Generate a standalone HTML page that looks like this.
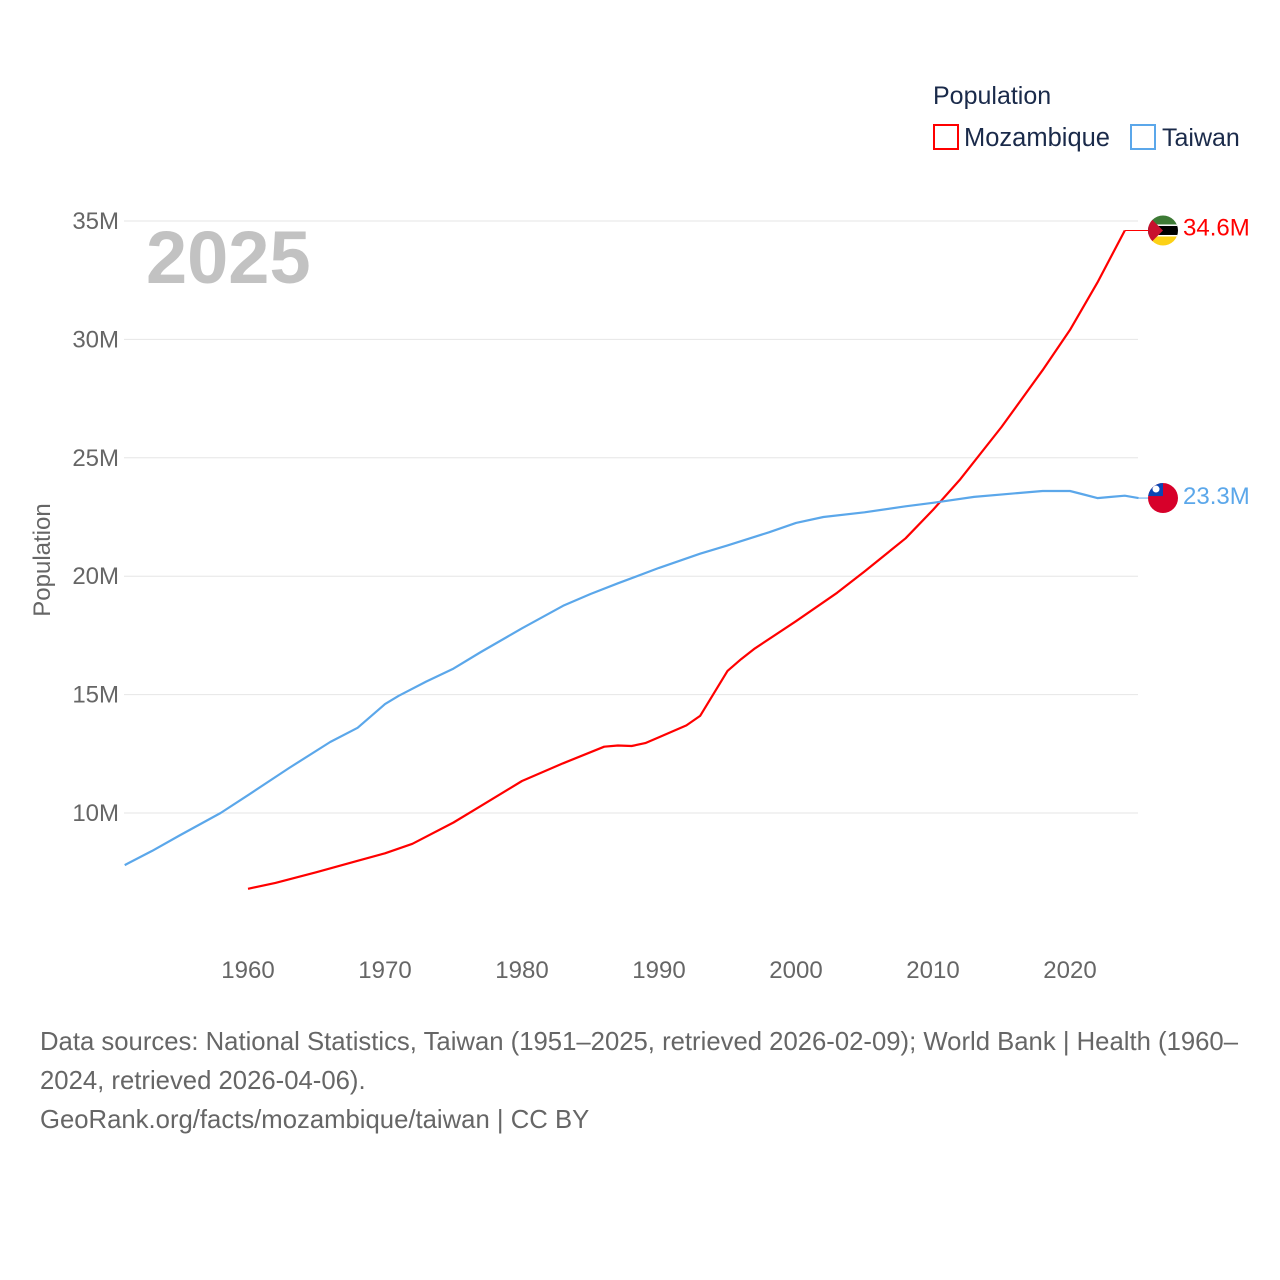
<!DOCTYPE html>
<html><head><meta charset="utf-8">
<style>
body{margin:0;background:#fff;}
svg{display:block;font-family:"Liberation Sans",sans-serif;}
</style></head>
<body>
<svg id="chart" width="1280" height="1280" viewBox="0 0 1280 1280">
  <text x="933" y="104" font-size="25" fill="#1a2a4a">Population</text>
  <g>
    <rect x="934" y="125" width="24" height="24" fill="none" stroke="#ff0000" stroke-width="2"/>
    <text x="964" y="146" font-size="25.5" fill="#1a2a4a">Mozambique</text>
  </g>
  <g>
    <rect x="1131" y="125" width="24" height="24" fill="none" stroke="#5ba7ea" stroke-width="2"/>
    <text x="1162" y="146" font-size="25" fill="#1a2a4a">Taiwan</text>
  </g>
  <g id="grid"></g>
  <g id="yticks"></g>
  <g id="xticks"></g>
  <text x="146" y="283" font-size="74" font-weight="bold" fill="#c2c2c2">2025</text>
  <text transform="translate(50,560) rotate(-90)" text-anchor="middle" font-size="24" fill="#666">Population</text>
  <g id="series"></g>
  <g font-size="25.7" fill="#666">
    <text x="40" y="1050">Data sources: National Statistics, Taiwan (1951–2025, retrieved 2026-02-09); World Bank | Health (1960–</text>
    <text x="40" y="1089">2024, retrieved 2026-04-06).</text>
    <text x="40" y="1128">GeoRank.org/facts/mozambique/taiwan | CC BY</text>
  </g>
</svg>
<script>
const yTicks = [10, 15, 20, 25, 30, 35];
const yTickLabels = ["10M","15M","20M","25M","30M","35M"];
const xTicks = [1960, 1970, 1980, 1990, 2000, 2010, 2020];
const taiwanYears = [1951,1953,1955,1958,1960,1963,1966,1968,1970,1971,1973,1975,1977,1980,1983,1985,1987,1990,1993,1995,1998,2000,2002,2005,2008,2010,2013,2016,2018,2020,2021,2022,2023,2024,2025];
const taiwanValues = [7.8,8.4,9.05,10.0,10.75,11.9,13.0,13.6,14.6,14.95,15.55,16.1,16.8,17.8,18.75,19.25,19.7,20.35,20.95,21.3,21.85,22.25,22.5,22.7,22.95,23.1,23.35,23.5,23.6,23.6,23.45,23.3,23.35,23.4,23.3];
const mozYears = [1960,1962,1965,1968,1970,1972,1975,1977,1979,1980,1983,1986,1987,1988,1989,1990,1992,1993,1995,1996,1997,2000,2003,2005,2008,2010,2012,2015,2018,2020,2022,2024];
const mozValues = [6.8,7.05,7.5,7.98,8.3,8.7,9.6,10.3,11.0,11.35,12.1,12.8,12.85,12.83,12.95,13.2,13.7,14.1,16.0,16.5,16.95,18.1,19.3,20.2,21.6,22.8,24.1,26.3,28.7,30.4,32.4,34.6];
const mozLabel = "34.6M";
const taiwanLabel = "23.3M";

const X0 = 124, X1 = 1138;
const xs = y => 248 + (y - 1960) * (1070 - 248) / 60;
const ys = v => 813 - (v - 10) * (813 - 221) / 25;
const NS = "http://www.w3.org/2000/svg";
function mk(tag, attrs, parent){const e=document.createElementNS(NS,tag);for(const k in attrs)e.setAttribute(k,attrs[k]);parent.appendChild(e);return e;}

const grid=document.getElementById('grid'), yt=document.getElementById('yticks'), xt=document.getElementById('xticks'), ser=document.getElementById('series');
yTicks.forEach((v,i)=>{
  const l=mk('line',{x1:X0,x2:X1,y1:ys(v),y2:ys(v),stroke:'#e6e6e6','stroke-width':1},grid);
  
  
  const t=mk('text',{x:119,y:ys(v)+8,'text-anchor':'end','font-size':24,fill:'#666'},yt);
  t.textContent=yTickLabels[i];
  
  
});
xTicks.forEach(y=>{
  const t=mk('text',{x:xs(y),y:978,'text-anchor':'middle','font-size':24,fill:'#666'},xt);
  t.textContent=y;
  
  
});
function line(years, vals, color, name){
  const d=years.map((y,i)=>(i?'L':'M')+xs(y).toFixed(1)+' '+ys(vals[i]).toFixed(1)).join(' ');
  const p=mk('path',{d:d,fill:'none',stroke:color,'stroke-width':2.2,'stroke-linejoin':'round'},ser);
  
  
  const lv=vals[vals.length-1], ly=ys(lv), lx=xs(years[years.length-1]);
  const c=mk('path',{d:`M${lx} ${ly} L1140 ${ly} L1150 ${ly}`,fill:'none',stroke:color,'stroke-width':1},ser);
  
  
  return ly;
}
const my=line(mozYears,mozValues,'#ff0000','line-mozambique');
const ty=line(taiwanYears,taiwanValues,'#5ba7ea','line-taiwan');

// Mozambique flag
let g=mk('g',{},ser);


const cpm=mk('clipPath',{id:'cm'},g); cpm.innerHTML=`<circle cx="1163" cy="${my}" r="15"/>`;
const fg=mk('g',{'clip-path':'url(#cm)'},g);
mk('rect',{x:1148,y:my-15,width:30,height:10,fill:'#3d7a35'},fg);
mk('rect',{x:1148,y:my-5,width:30,height:10,fill:'#000'},fg);
mk('rect',{x:1148,y:my-6,width:30,height:1.5,fill:'#fff'},fg);
mk('rect',{x:1148,y:my+4.5,width:30,height:1.5,fill:'#fff'},fg);
mk('rect',{x:1148,y:my+6,width:30,height:9,fill:'#fcd116'},fg);
mk('polygon',{points:`1148,${my-15} 1163,${my} 1148,${my+15}`,fill:'#c8102e'},fg);
const tm=mk('text',{x:1183,y:my+5,'font-size':24,fill:'#ff0000'},ser);
tm.textContent=mozLabel;



// Taiwan flag
g=mk('g',{},ser);


const cpt=mk('clipPath',{id:'ct'},g); cpt.innerHTML=`<circle cx="1163" cy="${ty}" r="15"/>`;
const ft=mk('g',{'clip-path':'url(#ct)'},g);
mk('rect',{x:1148,y:ty-15,width:30,height:30,fill:'#d7002a'},ft);
mk('rect',{x:1148,y:ty-15,width:15,height:13,fill:'#0a46b4'},ft);
mk('circle',{cx:1156,cy:ty-9,r:3.5,fill:'#fff'},ft);
const tt=mk('text',{x:1183,y:ty+6,'font-size':24,fill:'#5ba7ea'},ser);
tt.textContent=taiwanLabel;


</script>
</body></html>
